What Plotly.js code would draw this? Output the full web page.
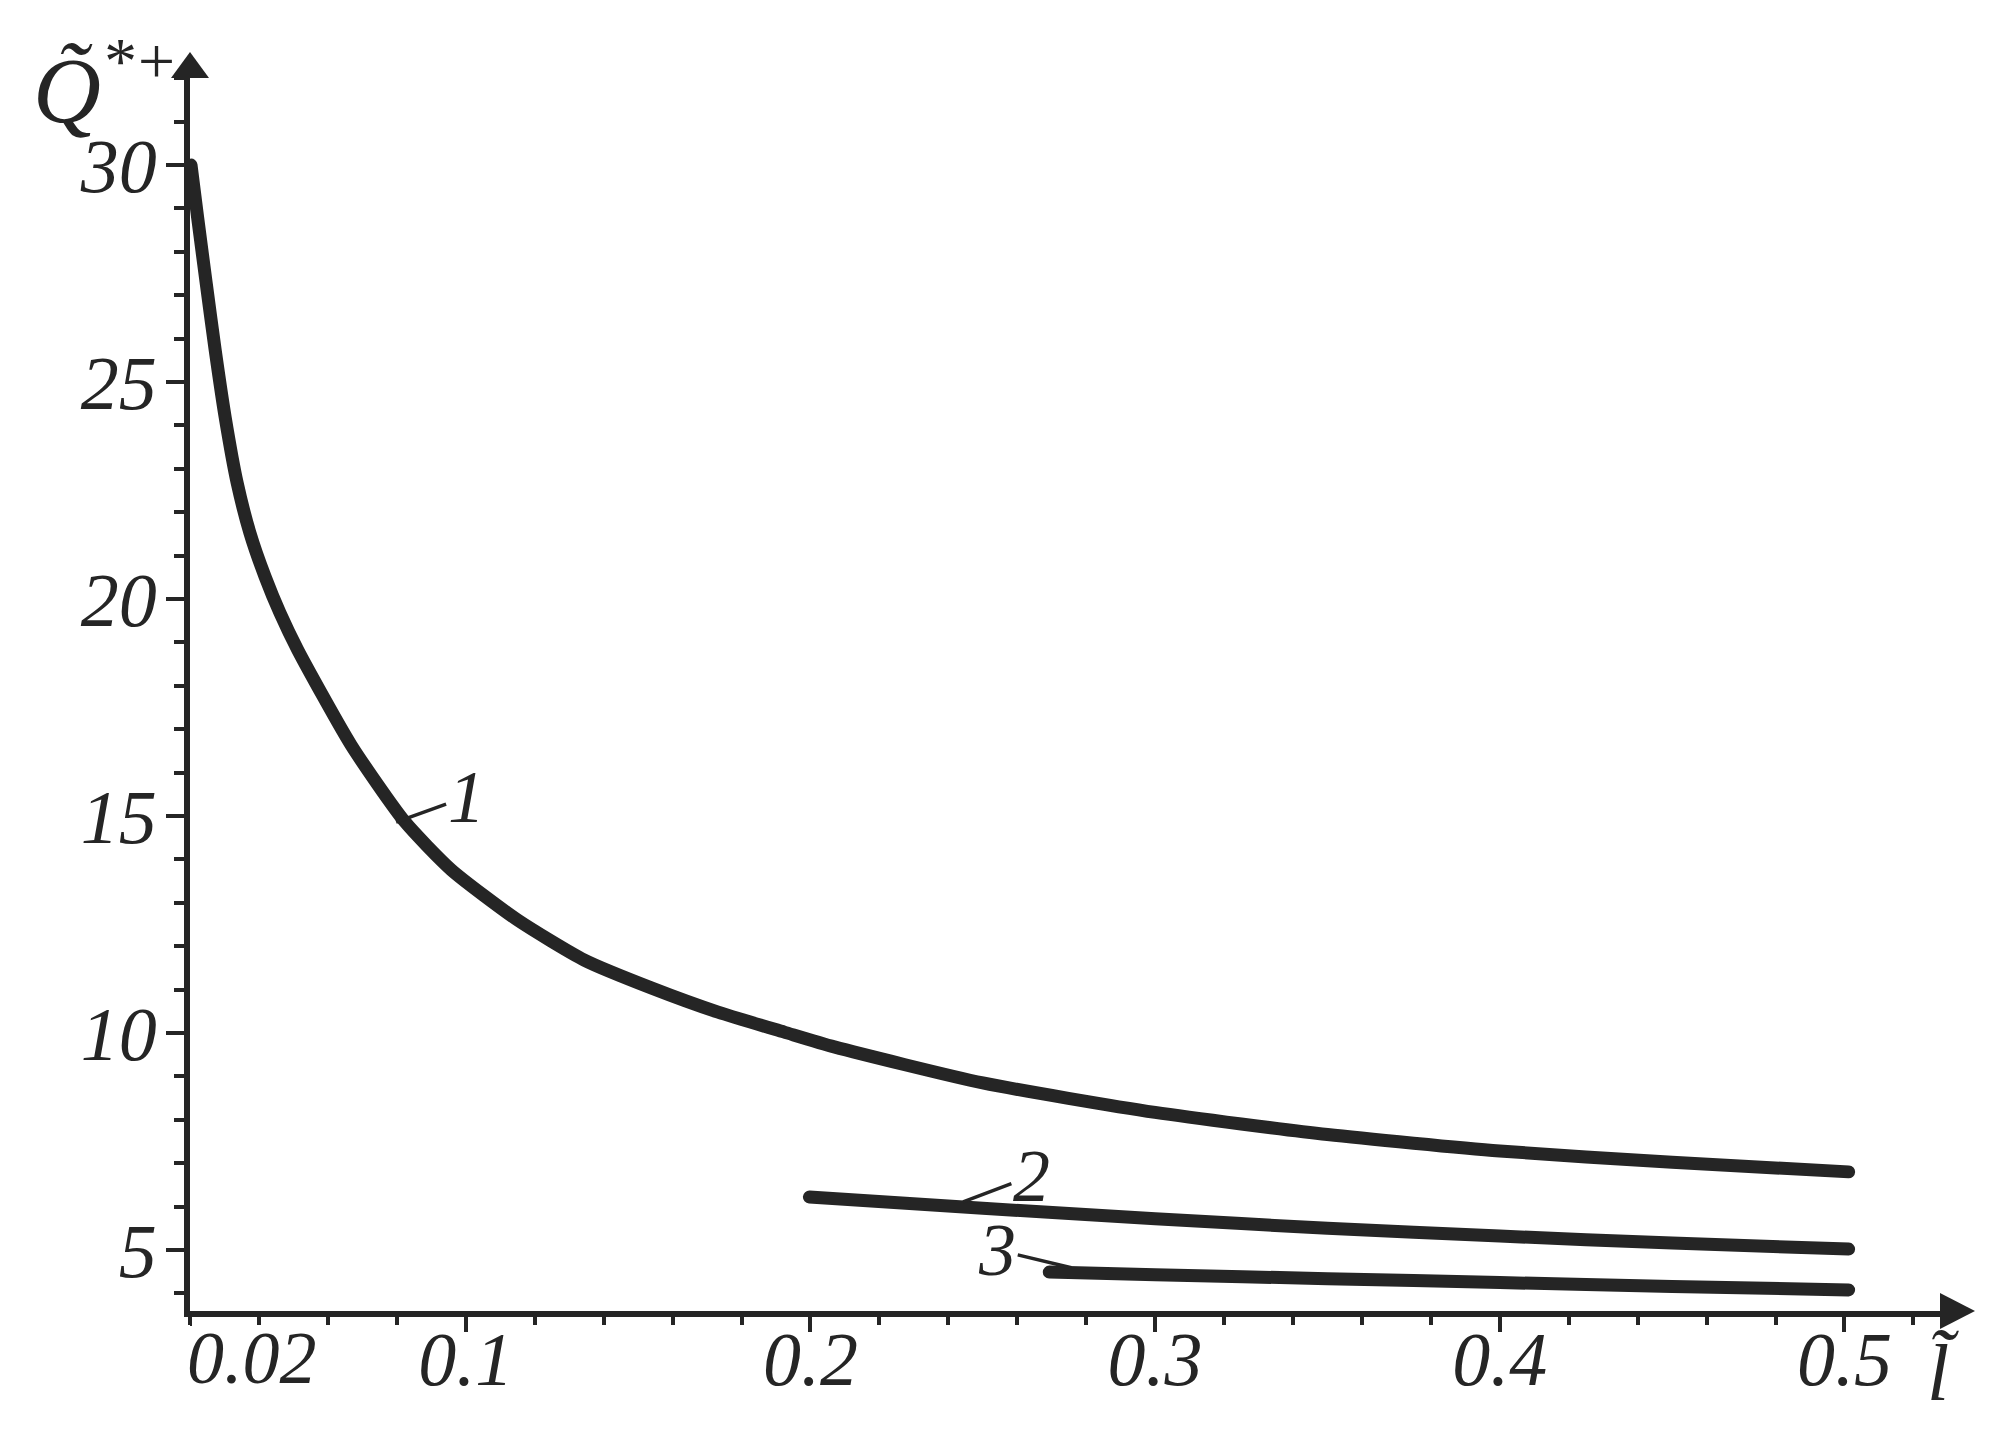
<!DOCTYPE html>
<html>
<head>
<meta charset="utf-8">
<script src="https://cdn.plot.ly/plotly-3.0.1.min.js"></script>
<style>
  html, body { margin: 0; padding: 0; background: #fff; }
  #plot { width: 2005px; height: 1437px; }
  #plot .js-line { stroke-linecap: round; stroke-linejoin: round; }
</style>
</head>
<body>
<div id="plot"></div>
<script>
// values
const curve1X = [0.0203, 0.0222, 0.0247, 0.0273, 0.0302, 0.0337, 0.0374, 0.0418, 0.0461, 0.0513,
                 0.0667, 0.0822, 0.0958, 0.1151, 0.1344, 0.1538, 0.1732, 0.1924, 0.2069,
                 0.25, 0.30, 0.35, 0.40, 0.45, 0.5012];
const curve1Y = [30.0, 28.8, 27.28, 25.74, 24.19, 22.67, 21.52, 20.51, 19.68, 18.82,
                 16.64, 14.88, 13.76, 12.60, 11.68, 11.04, 10.48, 10.02, 9.68,
                 8.85, 8.17, 7.66, 7.28, 7.02, 6.80];

const curve2X = [0.1997, 0.25, 0.30, 0.35, 0.40, 0.45, 0.5012];
const curve2Y = [6.22, 5.96, 5.72, 5.50, 5.32, 5.16, 5.02];

const curve3X = [0.2693, 0.30, 0.35, 0.40, 0.45, 0.5012];
const curve3Y = [4.49, 4.43, 4.34, 4.25, 4.16, 4.08];

const curveNames = ['1', '2', '3'];

const xTickVals = [0.1, 0.2, 0.3, 0.4, 0.5];
const xTickText = ['0.1', '0.2', '0.3', '0.4', '0.5'];
const xOriginVal = 0.02;
const xOriginText = '0.02';
const yTickVals = [5, 10, 15, 20, 25, 30];
const yTickText = ['5', '10', '15', '20', '25', '30'];

const yTitle = 'Q\u0303<sup>*+</sup>';
const xTitle = 'l\u0303';

const ink = '#252525';
const serif = '"Liberation Serif", "Times New Roman", Times, serif';

// plot area in pixels, used to size the arrow heads
const mg = {l: 190, r: 64, t: 77, b: 126};
const plotW = 2005 - mg.l - mg.r;
const plotH = 1437 - mg.t - mg.b;

function lineTrace(xs, ys, name){
    return {
        x: xs,
        y: ys,
        type: 'scatter',
        mode: 'lines',
        name: name,
        line: {color: ink, width: 13, shape: 'spline', smoothing: 0.6},
        hoverinfo: 'skip'
    };
}

const data = [
    lineTrace(curve1X, curve1Y, curveNames[0]),
    lineTrace(curve2X, curve2Y, curveNames[1]),
    lineTrace(curve3X, curve3Y, curveNames[2])
];

//arrow heads at the ends of both axes
const yhx = 19 / plotW, yLen = 25 / plotH;
const xhy = 18 / plotH, xLen = 34 / plotW;
const shapes = [
    {type: 'path', xref: 'paper', yref: 'paper',
     path: `M ${-yhx},${1 - 1 / plotH} L ${yhx},${1 - 1 / plotH} L 0,${1 + yLen} Z`,
     fillcolor: ink, line: {width: 0}},
    {type: 'path', xref: 'paper', yref: 'paper',
     path: `M ${1 - 1 / plotW},${-xhy} L ${1 - 1 / plotW},${xhy} L ${1 + xLen},0 Z`,
     fillcolor: ink, line: {width: 0}},
    // longer tick at the corner, like the other labelled ticks
    {type: 'line', xref: 'x', yref: 'paper',
     x0: xOriginVal, x1: xOriginVal, y0: 0, y1: -15 / plotH,
     line: {color: ink, width: 4}}
];

function curveLabel(text, x, y, ax, ay){
    return {
        text: text, x: x, y: y, ax: ax, ay: ay,
        xref: 'x', yref: 'y', axref: 'x', ayref: 'y',
        showarrow: true, arrowhead: 0, arrowwidth: 3.5, arrowcolor: ink, standoff: 0,
        font: {family: serif, size: 74, style: 'italic', color: ink}
    };
}

const annotations = [
    curveLabel(curveNames[0], 0.0798, 14.86, 0.1001, 15.44),
    curveLabel(curveNames[1], 0.2443, 6.11, 0.2641, 6.70),
    curveLabel(curveNames[2], 0.2757, 4.59, 0.2542, 5.0),
    {   // origin label sits right of the corner
        text: xOriginText, x: xOriginVal, xref: 'x', xshift: 62,
        y: 0, yref: 'paper', yanchor: 'top', yshift: -4,
        showarrow: false,
        font: {family: serif, size: 74, style: 'italic', color: ink}
    },
    {
        text: yTitle, xref: 'paper', yref: 'paper',
        x: -10 / plotW, y: 1 - 6 / plotH, xanchor: 'right', yanchor: 'middle',
        showarrow: false,
        font: {family: serif, size: 94, style: 'italic', color: ink}
    },
    {
        text: xTitle, xref: 'paper', yref: 'paper',
        x: 1 + 2 / plotW, y: -62 / plotH, xanchor: 'center', yanchor: 'middle',
        showarrow: false,
        font: {family: serif, size: 80, style: 'italic', color: ink}
    }
];

const layout = {
    width: 2005,
    height: 1437,
    margin: mg,
    paper_bgcolor: '#fff',
    plot_bgcolor: '#fff',
    showlegend: false,
    xaxis: {
        range: [0.02, 0.528],
        showline: true, linewidth: 6, linecolor: ink,
        showgrid: false, zeroline: false,
        tickmode: 'array',
        tickvals: xTickVals,
        ticktext: xTickText,
        ticks: 'outside', ticklen: 15, tickwidth: 4, tickcolor: ink,
        ticklabelstandoff: -38,
        tickfont: {family: serif, size: 76, style: 'italic', color: ink},
        minor: {dtick: 0.02, tick0: 0, ticks: 'outside', ticklen: 8, tickwidth: 4,
                tickcolor: ink, showgrid: false}
    },
    yaxis: {
        range: [3.594, 32.03],
        showline: true, linewidth: 6, linecolor: ink,
        showgrid: false, zeroline: false,
        tickmode: 'array',
        tickvals: yTickVals,
        ticktext: yTickText,
        ticks: 'outside', ticklen: 18, tickwidth: 4, tickcolor: ink,
        ticklabelstandoff: -6,
        tickfont: {family: serif, size: 76, style: 'italic', color: ink},
        minor: {dtick: 1, tick0: 0, ticks: 'outside', ticklen: 10, tickwidth: 4,
                tickcolor: ink, showgrid: false}
    },
    shapes: shapes,
    annotations: annotations
};

Plotly.newPlot('plot', data, layout, {staticPlot: true});
</script>
</body>
</html>
